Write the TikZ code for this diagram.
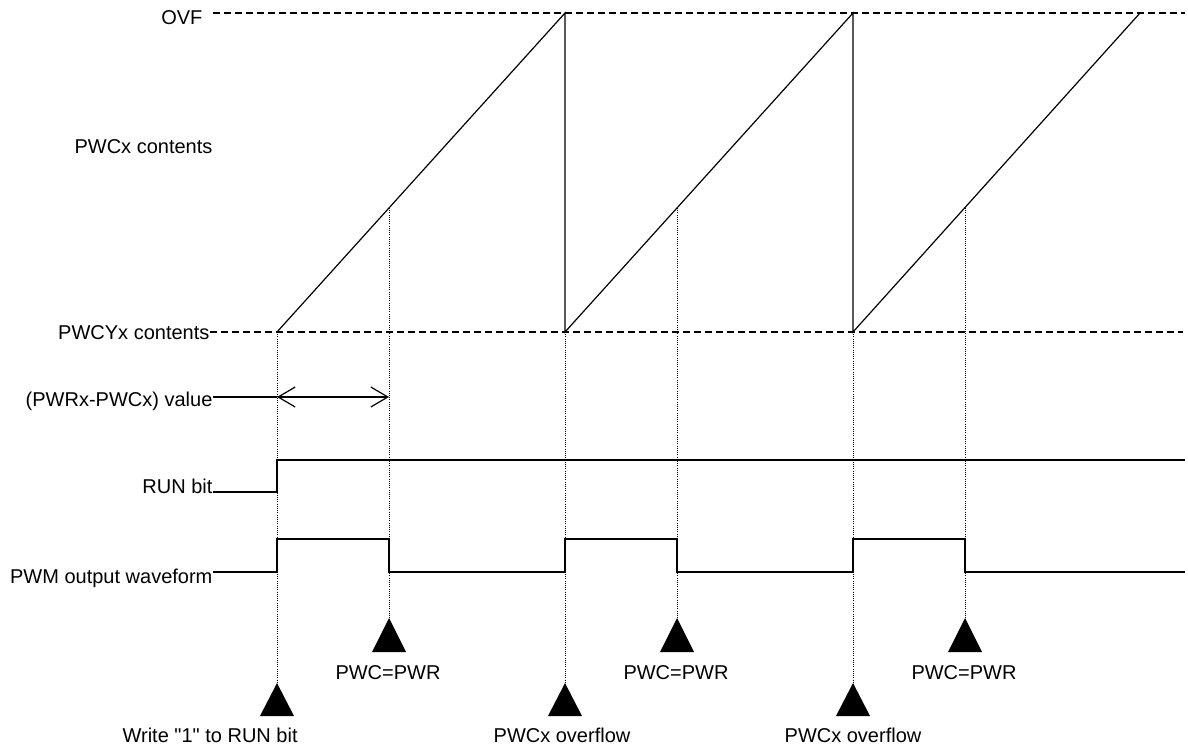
\documentclass[tikz,border=0pt]{standalone}
\usepackage{fontspec}
\setmainfont{Liberation Sans}
\newfontfamily\plainsans{Liberation Sans}
\usetikzlibrary{arrows.meta}
\begin{document}
\begin{tikzpicture}[x=1pt,y=-1pt,line width=1.2pt,
  lbl/.style={inner sep=0pt,font=\plainsans\fontsize{20}{24}\selectfont},
  dashline/.style={dash pattern=on 7pt off 4pt},
  dotline/.style={line width=0.9pt,dash pattern=on 1pt off 1.2pt},
  dimarrow/.style={{Straight Barb[length=17pt,width=20pt]}-{Straight Barb[length=17pt,width=20pt]}},
  trig/.style={fill=black}]
\useasboundingbox (0,0) rectangle (1188,752);
% key coordinates
\coordinate (ovfL) at (213,13);   \coordinate (ovfR) at (1185,13);
\coordinate (cyL) at (210,332);   \coordinate (cyR) at (1183,332);
\coordinate (s1) at (277,332);
\coordinate (t1) at (565,13);  \coordinate (b1) at (565,332);
\coordinate (t2) at (853,13);  \coordinate (b2) at (853,332);
\coordinate (t3) at (1140,13);
\coordinate (m1) at (389,208); \coordinate (m2) at (677,208); \coordinate (m3) at (965,208);
% labels left
\node[lbl,anchor=base east] (ovf) at (203,25) {OVF};
\node[lbl,anchor=base east] (pwcx) at (213,153) {PWCx contents};
\node[lbl,anchor=base east] (pwcy) at (210,339) {PWCYx contents};
\node[lbl,anchor=base east] (diff) at (213,406) {(PWRx-PWCx) value};
\node[lbl,anchor=base east] (run) at (213,493) {RUN bit};
\node[lbl,anchor=base east] (pwm) at (213,583) {PWM output waveform};
% reference levels
\draw[dashline] (ovfL) -- (ovfR);
\draw[dashline] (cyL) -- (cyR);
% sawtooth
\draw (s1) -- (t1) -- (b1) -- (t2) -- (b2) -- (t3);
% difference arrow
\coordinate (a0) at (213,397); \coordinate (a1) at (277,397); \coordinate (a2) at (389,397);
\draw (a0) -- (a1);
\draw[dimarrow] (a1) -- (a2);
% RUN bit
\coordinate (r0) at (213,492); \coordinate (r1) at (1185,460);
\draw (r0) -- (277,492) -- (277,460) -- (r1);
% PWM waveform
\coordinate (w0) at (213,572); \coordinate (w1) at (1185,572);
\draw (w0) -- (277,572) -- (277,539) -- (389,539) -- (389,572) -- (565,572) -- (565,539)
  -- (677,539) -- (677,572) -- (853,572) -- (853,539) -- (965,539) -- (965,572) -- (w1);
% event triangles
\coordinate (e1) at (277,683); \coordinate (e2) at (565,683); \coordinate (e3) at (853,683);
\coordinate (p1) at (389,618); \coordinate (p2) at (677,618); \coordinate (p3) at (965,618);
\foreach \c in {e1,e2,e3} \fill[trig] (\c) -- ++(-17,33) -- ++(34,0) -- cycle;
\foreach \c in {p1,p2,p3} \fill[trig] (\c) -- ++(-17,34) -- ++(34,0) -- cycle;
% dotted guides
\draw[dotline] (s1) -- (e1);
\draw[dotline] (b1) -- (e2);
\draw[dotline] (b2) -- (e3);
\draw[dotline] (m1) -- (p1);
\draw[dotline] (m2) -- (p2);
\draw[dotline] (m3) -- (p3);
% event labels
\node[lbl,anchor=base west] (lw) at (122,742) {Write "1" to RUN bit};
\node[lbl,anchor=base] (lo1) at (562,742) {PWCx overflow};
\node[lbl,anchor=base] (lo2) at (853,742) {PWCx overflow};
\node[lbl,anchor=base] (lp1) at (388,679) {PWC=PWR};
\node[lbl,anchor=base] (lp2) at (676,679) {PWC=PWR};
\node[lbl,anchor=base] (lp3) at (964,679) {PWC=PWR};
\end{tikzpicture}
\end{document}
